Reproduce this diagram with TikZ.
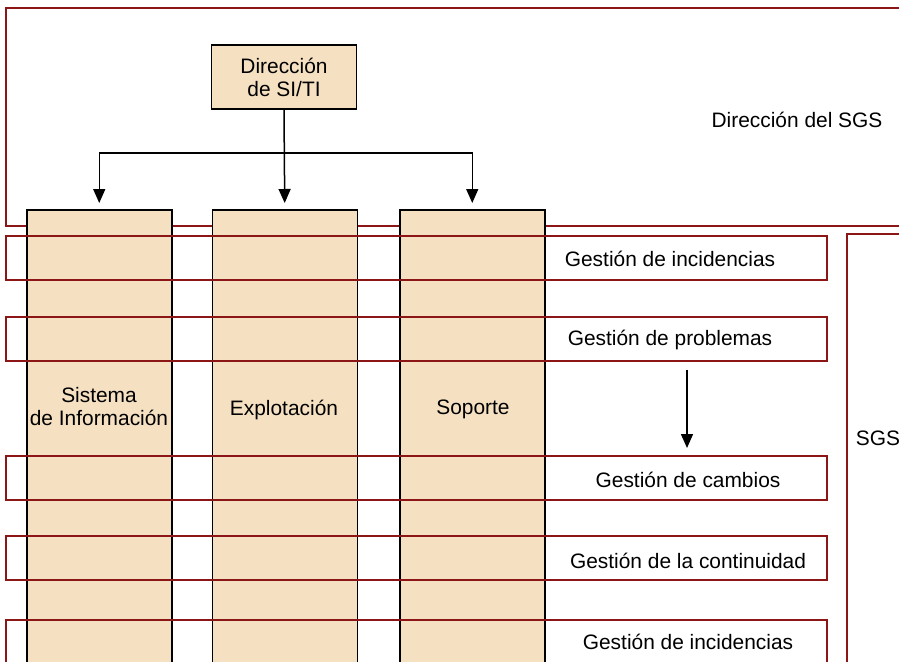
\documentclass[tikz,border=0pt]{standalone}
\usepackage{fontspec}
\setmainfont{Liberation Sans}
\usetikzlibrary{arrows.meta}
\definecolor{boxfill}{RGB}{245,225,194}
\definecolor{framered}{RGB}{140,22,22}
\begin{document}
\begin{tikzpicture}[x=1pt,y=-1pt,
  font=\fontsize{20.9}{23}\selectfont,
  redframe/.style={draw=framered, line width=1.6pt, inner sep=0pt, anchor=north west},
  colbox/.style={draw=black, fill=boxfill, line width=1.5pt, inner sep=0pt, anchor=north west, minimum width=145pt},
  arr/.style={-{Triangle[width=12pt,length=14pt]}, line width=1.5pt},
  lbl/.style={inner sep=0pt, align=center}]
\useasboundingbox (0,0) rectangle (899,661);
\clip (0,0) rectangle (899,661);
% outer frames
\node[redframe, minimum width=920pt, minimum height=218pt] (dsgs) at (5,7) {};
\node[redframe, minimum width=120pt, minimum height=480pt] (sgs) at (846,233) {};
% direction box
\node[draw=black, fill=boxfill, line width=1.5pt, minimum width=145pt, minimum height=64pt, align=center, inner sep=0pt] (dir) at (284,77) {Dirección\\de SI/TI};
% columns
\node[colbox, minimum height=480pt] (col1) at (26,209) {};
\node[colbox, minimum height=480pt] (col2) at (211.5,209) {};
\node[colbox, minimum height=480pt] (col3) at (399,209) {};
% process boxes
\node[redframe, minimum width=821pt, minimum height=44pt] (p1) at (5,235) {};
\node[redframe, minimum width=821pt, minimum height=44pt] (p2) at (5,316) {};
\node[redframe, minimum width=821pt, minimum height=44pt] (p3) at (5,455) {};
\node[redframe, minimum width=821pt, minimum height=44pt] (p4) at (5,535) {};
\node[redframe, minimum width=821pt, minimum height=60pt] (p5) at (5,619) {};
% labels
\node[lbl] (t1) at (670,259) {Gestión de incidencias};
\node[lbl] (t2) at (670,339.5) {Gestión de problemas};
\node[lbl] (t3) at (688,480) {Gestión de cambios};
\node[lbl] (t4) at (688,561) {Gestión de la continuidad};
\node[lbl] (t5) at (688,642) {Gestión de incidencias};
\node[lbl] (l1) at (99,407) {Sistema\\de Información};
\node[lbl] (l2) at (284,409.5) {Explotación};
\node[lbl] (l3) at (473,409.5) {Soporte};
\node[lbl] (lsgs) at (797,120) {Dirección del SGS};
\node[lbl] (lsgs2) at (878,438.5) {SGS};
% connectors
\coordinate (j) at (dir.south |- 0,153);
\draw[arr, shorten >=6pt] (dir.south) -- (col2.north);
\draw[arr, shorten >=6pt] (j) -| (col1.north);
\draw[arr, shorten >=6pt] (j) -| (col3.north);
\draw[arr, shorten <=8pt, shorten >=7pt] (p2.south -| 687,0) -- (p3.north -| 687,0);
\end{tikzpicture}
\end{document}
